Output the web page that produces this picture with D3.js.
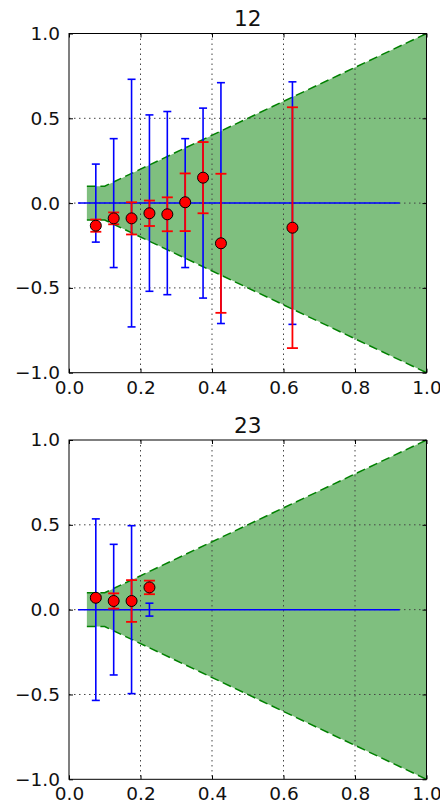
<!DOCTYPE html>
<html lang="en">
<head>
<meta charset="UTF-8">
<title>12 / 23</title>
<script src="https://d3js.org/d3.v7.min.js"></script>
<style>
    body { margin: 0; background: #fff; }
    svg { display: block; font-family: "DejaVu Sans", sans-serif; }
    .tick text { font-size: 18.5px; fill: #111; }
    .tick line { stroke: #000; }
    .grid line { stroke: #444; stroke-width: 1; stroke-dasharray: 1.5,3.5; }
    .band { fill: #7fbf7f; stroke: none; }
    .edge { fill: none; stroke: #008000; stroke-width: 1.5; stroke-dasharray: 9,4.5; }
    .zero { stroke: #0000ff; stroke-width: 1.5; }
    .blue line { stroke: #0000ff; stroke-width: 1.6; }
    .red line { stroke: #ff0000; stroke-width: 1.8; }
    .dot { fill: #ff0000; stroke: #000; stroke-width: 1; }
    .title { font-size: 21.6px; text-anchor: middle; fill: #111; }
</style>
</head>
<body>
<div id="chart"></div>
<script>
    // tick values shared by both panels
    const xTicks = [0.0, 0.2, 0.4, 0.6, 0.8, 1.0];
    const yTicks = [-1.0, -0.5, 0.0, 0.5, 1.0];

    // green band: upper edge, lower edge is its mirror
    const bandX = [0.05, 0.1, 1.0];
    const bandHi = [0.1, 0.1, 1.0];

    // blue reference line at zero
    const zeroX = [0.025, 0.925];

    // panel "12"
    const binX12 = [0.075, 0.125, 0.175, 0.225, 0.275, 0.325, 0.375, 0.425, 0.625];
    const blueErr12 = [0.23, 0.38, 0.73, 0.52, 0.54, 0.38, 0.56, 0.71, 0.715];
    const mean12 = [-0.133, -0.09, -0.09, -0.06, -0.066, 0.005, 0.15, -0.237, -0.145];
    const redErr12 = [0.036, 0.035, 0.095, 0.075, 0.1, 0.17, 0.21, 0.41, 0.71];

    // panel "23"
    const binX23 = [0.075, 0.125, 0.175, 0.225];
    const blueErr23 = [0.535, 0.385, 0.495, 0.038];
    const mean23 = [0.07, 0.051, 0.051, 0.131];
    const redErr23 = [0.01, 0.045, 0.123, 0.04];

    const panels = [
        {title: "12", top: 33.5, bottom: 372.7, xs: binX12, blue: blueErr12, mean: mean12, red: redErr12},
        {title: "23", top: 440, bottom: 779.3, xs: binX23, blue: blueErr23, mean: mean23, red: redErr23}
    ];

    const left = 69, right = 426.5;
    const width = 440, height = 806;
    const blueCap = 4, redCap = 5.5;

    const svg = d3.select("#chart").append("svg")
        .attr("width", width)
        .attr("height", height);

    const x = d3.scaleLinear().domain([0, 1]).range([left, right]);
    const fmt = d3.format(".1f");

    // vertical bar with caps at both ends
    function errorBars(sel, cls, cap, lo, hi) {
        const eb = sel.append("g").attr("class", cls)
            .selectAll("g").data(d => d).enter().append("g");
        eb.append("line")
            .attr("x1", d => x(d.x)).attr("x2", d => x(d.x))
            .attr("y1", lo).attr("y2", hi);
        eb.append("line")
            .attr("x1", d => x(d.x) - cap).attr("x2", d => x(d.x) + cap)
            .attr("y1", hi).attr("y2", hi);
        eb.append("line")
            .attr("x1", d => x(d.x) - cap).attr("x2", d => x(d.x) + cap)
            .attr("y1", lo).attr("y2", lo);
    }

    panels.forEach(p => {
        const y = d3.scaleLinear().domain([-1, 1]).range([p.bottom, p.top]);
        const g = svg.append("g");

        // band
        const band = bandX.map((d, i) => ({x: d, hi: bandHi[i]}));
        g.append("path")
            .datum(band)
            .attr("class", "band")
            .attr("d", d3.area().x(d => x(d.x)).y0(d => y(-d.hi)).y1(d => y(d.hi)));
        g.append("path")
            .datum(band)
            .attr("class", "edge")
            .attr("d", d3.line().x(d => x(d.x)).y(d => y(d.hi)));
        g.append("path")
            .datum(band)
            .attr("class", "edge")
            .attr("d", d3.line().x(d => x(d.x)).y(d => y(-d.hi)));

        // grid
        const grid = g.append("g").attr("class", "grid");
        grid.selectAll(".gx").data(xTicks.slice(1, -1)).enter().append("line")
            .attr("x1", d => x(d)).attr("x2", d => x(d))
            .attr("y1", p.top).attr("y2", p.bottom);
        grid.selectAll(".gy").data(yTicks.slice(1, -1)).enter().append("line")
            .attr("x1", left).attr("x2", right)
            .attr("y1", d => y(d)).attr("y2", d => y(d));

        // zero line
        g.append("line")
            .attr("class", "zero")
            .attr("x1", x(zeroX[0])).attr("x2", x(zeroX[1]))
            .attr("y1", y(0)).attr("y2", y(0));

        const pts = p.xs.map((d, i) => ({x: d, b: p.blue[i], m: p.mean[i], r: p.red[i]}));
        const data = g.append("g").datum(pts);

        // blue spread around zero, then red error bars and means
        errorBars(data, "blue", blueCap, d => y(-d.b), d => y(d.b));
        errorBars(data, "red", redCap, d => y(d.m - d.r), d => y(d.m + d.r));
        g.selectAll(".dot").data(pts).enter().append("circle")
            .attr("class", "dot")
            .attr("r", 5.5)
            .attr("cx", d => x(d.x))
            .attr("cy", d => y(d.m));

        // axes, ticks pointing inward on all four sides
        const ax = [
            [d3.axisBottom(x).tickValues(xTicks).tickFormat(fmt).tickPadding(8), `translate(0,${p.bottom})`],
            [d3.axisTop(x).tickValues(xTicks).tickFormat(""), `translate(0,${p.top})`],
            [d3.axisLeft(y).tickValues(yTicks).tickFormat(fmt).tickPadding(9), `translate(${left},0)`],
            [d3.axisRight(y).tickValues(yTicks).tickFormat(""), `translate(${right},0)`]
        ];
        ax.forEach(([a, t]) => {
            const s = g.append("g")
                .attr("transform", t)
                .call(a.tickSizeInner(-4).tickSizeOuter(0));
            s.select(".domain").remove();
            s.selectAll("text").attr("font-family", "DejaVu Sans, sans-serif");
        });

        // frame
        g.append("rect")
            .attr("x", left).attr("y", p.top)
            .attr("width", right - left).attr("height", p.bottom - p.top)
            .attr("fill", "none").attr("stroke", "#000").attr("stroke-width", 1);

        g.append("text")
            .attr("class", "title")
            .attr("x", (left + right) / 2)
            .attr("y", p.top - 7.5)
            .text(p.title);
    });
</script>
</body>
</html>
